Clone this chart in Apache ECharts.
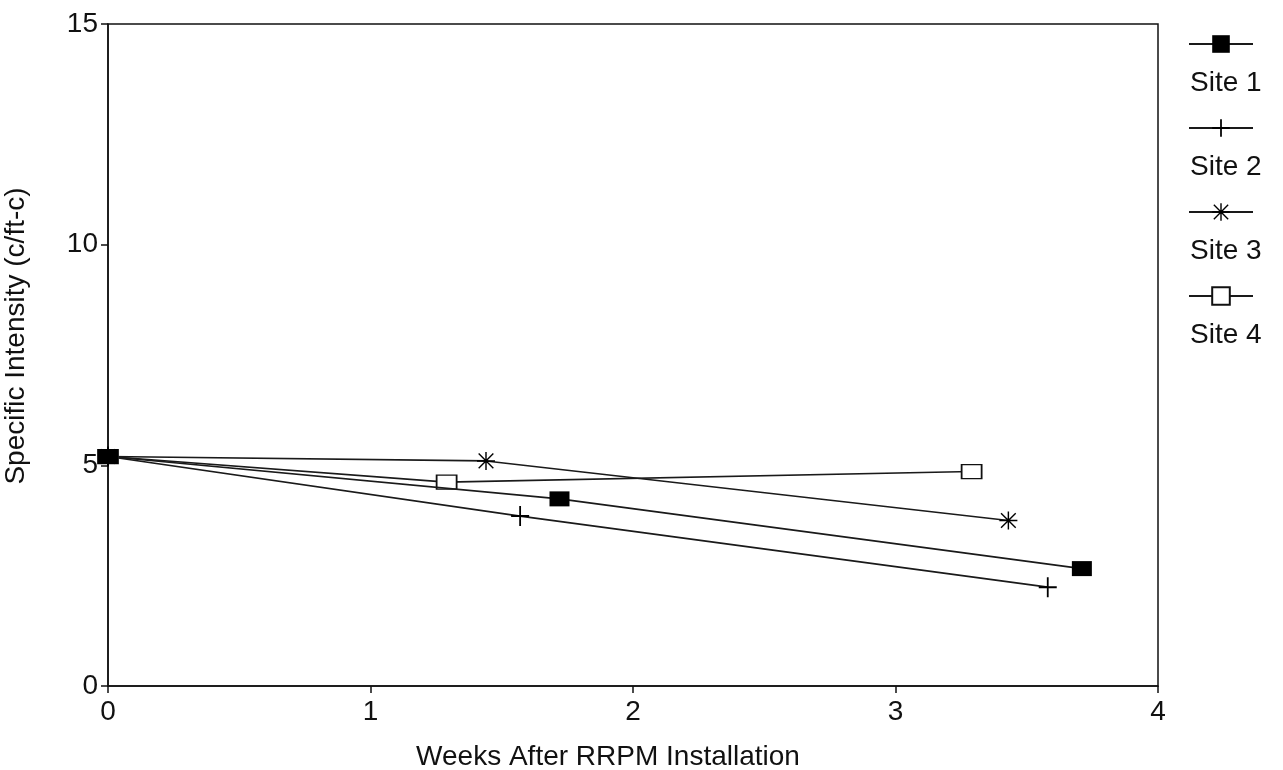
<!DOCTYPE html>
<html>
<head>
<meta charset="utf-8">
<script src="https://cdn.jsdelivr.net/npm/echarts@6/dist/echarts.min.js"></script>
<style>
  html, body { margin: 0; padding: 0; background: #fff; }
  #chart { width: 1283px; height: 770px; }
</style>
</head>
<body>
<div id="chart"></div>
<script>
// ---- data
var siteNames = ['Site 1', 'Site 2', 'Site 3', 'Site 4'];
var site1 = [[0, 5.2], [1.72, 4.24], [3.71, 2.66]];
var site2 = [[0, 5.2], [1.57, 3.85], [3.58, 2.24]];
var site3 = [[0, 5.2], [1.44, 5.1], [3.43, 3.75]];
var site4 = [[0, 5.2], [1.29, 4.62], [3.29, 4.86]];
var xTicks = [0, 1, 2, 3, 4];
var yTicks = [0, 5, 10, 15];

// ---- marker shapes
var plusPath = 'path://M9,0H11V20H9Z M0,9H20V11H0Z';
var starPath = 'path://M9.2,0H10.8V20H9.2Z M0,9.2H20V10.8H0Z M2.4,1.3L18.7,17.6L17.6,18.7L1.3,2.4Z M17.6,1.3L18.7,2.4L2.4,18.7L1.3,17.6Z';

var lineStyle = { color: '#1a1a1a', width: 1.6 };

function makeSeries(name, data, symbol, size, fill, z) {
    return {
        name: name,
        type: 'line',
        data: data,
        z: z,
        symbol: symbol,
        symbolSize: size,
        showAllSymbol: true,
        lineStyle: lineStyle,
        itemStyle: {
            color: fill,
            borderColor: '#111',
            borderWidth: fill == '#fff' ? 1.5 : 0
        },
        animation: false
    };
}

var chart = echarts.init(document.getElementById('chart'));
var option = {
    backgroundColor: '#fff',
    textStyle: { fontFamily: 'Liberation Sans, Arial, sans-serif' },
    grid: {
        left: 108, right: 125, top: 24, bottom: 84,
        outerBoundsMode: 'none',
        containLabel: false,
        show: true, borderColor: '#111', borderWidth: 1.5
    },
    legend: {
        orient: 'vertical',
        left: 1183,
        top: -14,
        itemWidth: 64,
        itemHeight: 22,
        itemGap: -22,
        data: siteNames,
        formatter: function (name) { return '\n\n\n' + name; },
        textStyle: {
            fontSize: 28,
            color: '#111',
            lineHeight: 26,
            padding: [0, 0, 0, -68]
        }
    },
    xAxis: {
        type: 'value',
        min: xTicks[0], max: xTicks[xTicks.length - 1], interval: 1,
        name: 'Weeks After RRPM Installation',
        nameLocation: 'middle',
        nameGap: 57,
        nameTextStyle: { fontSize: 28, color: '#111', padding: [0, 50, 0, 0] },
        axisLine: { lineStyle: { color: '#111', width: 1.5 } },
        axisTick: { show: true, length: 7, lineStyle: { color: '#111', width: 1.5 } },
        axisLabel: { fontSize: 28, color: '#111', margin: 12 },
        splitLine: { show: false }
    },
    yAxis: {
        type: 'value',
        min: yTicks[0], max: yTicks[yTicks.length - 1], interval: 5,
        name: 'Specific Intensity (c/ft-c)',
        nameLocation: 'middle',
        nameGap: 78,
        nameTextStyle: { fontSize: 28, color: '#111', padding: [0, 0, 0, 38] },
        axisLine: { show: true, lineStyle: { color: '#111', width: 1.5 } },
        axisTick: { show: true, length: 7, lineStyle: { color: '#111', width: 1.5 } },
        axisLabel: { fontSize: 28, color: '#111', margin: 10 },
        splitLine: { show: false }
    },
    series: [
        makeSeries(siteNames[0], site1, 'rect', [20, 15], '#000', 5),
        makeSeries(siteNames[1], site2, plusPath, [18, 20], '#000', 4),
        makeSeries(siteNames[2], site3, starPath, [18, 18], '#000', 3),
        makeSeries(siteNames[3], site4, 'rect', [20, 14], '#fff', 2)
    ]
};
chart.setOption(option);
</script>
</body>
</html>
